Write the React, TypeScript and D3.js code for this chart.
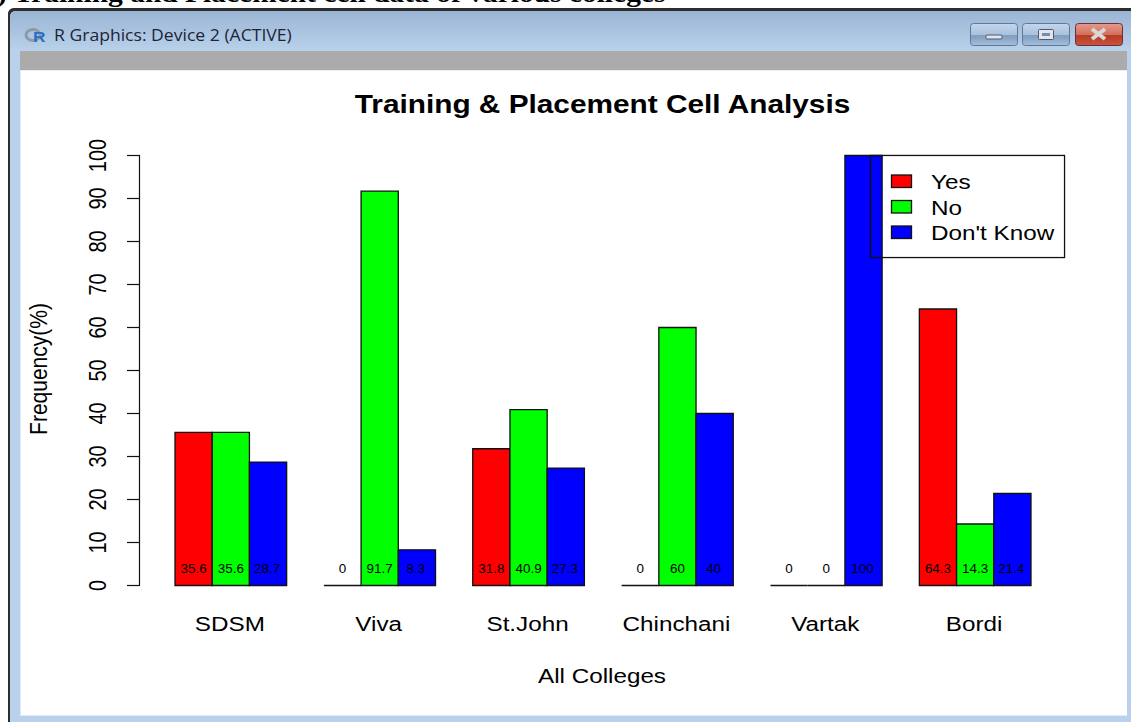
import React from "react";
import * as d3 from "d3";

const colleges = ["SDSM", "Viva", "St.John", "Chinchani", "Vartak", "Bordi"];
const yes = [35.6, 0, 31.8, 0, 0, 64.3];
const no = [35.6, 91.7, 40.9, 60, 0, 14.3];
const dontKnow = [28.7, 8.3, 27.3, 40, 100, 21.4];
const seriesNames = ["Yes", "No", "Don't Know"];
const seriesColors = ["#ff0000", "#00ff00", "#0000ff"];
const yTicks = [0, 10, 20, 30, 40, 50, 60, 70, 80, 90, 100];

const SANS = "'Liberation Sans', Arial, sans-serif";
const SX = 1.155;

function T({ x, y, sx = SX, rotate = 0, children, ...rest }: any) {
  const r = rotate ? ` rotate(${rotate})` : "";
  return (
    <text transform={`translate(${x},${y}) scale(${sx},1)${r}`} {...rest}>
      {children}
    </text>
  );
}

export default function App() {
  const y = d3.scaleLinear().domain([0, 100]).range([585.5, 155.5]);
  const x = d3.scaleLinear().domain([1, 24]).range([175, 1031]);
  const series = [yes, no, dontKnow];
  const unit = x(2) - x(1);
  const labelNudge = [0, 0, -1];

  return (
    <svg
      width={1131}
      height={722}
      viewBox="0 0 1131 722"
      style={{ position: "absolute", left: 0, top: 0, display: "block" }}
      fontFamily={SANS}
    >
      <defs>
        <linearGradient id="bar" x1="0" y1="0" x2="0" y2="1">
          <stop offset="0" stopColor="#9ab5d4" />
          <stop offset="1" stopColor="#b9d1ea" />
        </linearGradient>
        <linearGradient id="btn" x1="0" y1="0" x2="0" y2="1">
          <stop offset="0" stopColor="#c3d6ec" />
          <stop offset="0.5" stopColor="#a9c2df" />
          <stop offset="0.55" stopColor="#7f9cbd" />
          <stop offset="1" stopColor="#a5c0de" />
        </linearGradient>
        <linearGradient id="close" x1="0" y1="0" x2="0" y2="1">
          <stop offset="0" stopColor="#e49a8c" />
          <stop offset="0.5" stopColor="#d2705f" />
          <stop offset="0.55" stopColor="#b93a22" />
          <stop offset="1" stopColor="#c8553f" />
        </linearGradient>
      </defs>
      <rect x={0} y={0} width={1131} height={722} fill="#ffffff" />
      <T x={-3} y={2} sx={1.134} fontFamily="'Liberation Serif', serif" fontWeight="bold" fontSize={26}>
        ) Training and Placement cell data of various colleges
      </T>

      {/* window frame */}
      <path d="M8 722 V15 Q8 8 15 8 H1131 V722 Z" fill="#2e2e2e" />
      <path d="M8 722 V15 Q8 8 15 8 H1131 V9.5 H16 Q10 9.5 10 16 V722 Z" fill="#2e2e2e" />
      <path d="M10 722 V17 Q10 11 16 11 H1131 V722 Z" fill="#b9d1ea" />
      <path d="M10 51 V17 Q10 11 16 11 H1131 V51 Z" fill="url(#bar)" />
      <rect x={20} y={51} width={1107} height={19} fill="#ababab" />
      <rect x={20} y={70} width={1107} height={645} fill="#ffffff" />
      <rect x={20} y={70} width={1107} height={1} fill="#e8eef6" />
      <rect x={20} y={71} width={1} height={644} fill="#e0eaf6" />
      <rect x={20} y={715} width={1107} height={1} fill="#e0eaf6" />

      {/* title bar */}
      <ellipse cx={33} cy={35} rx={7} ry={5.5} fill="none" stroke="#8e9aa8" strokeWidth={3} />
      <text x={33} y={42} fontSize={15} fontWeight="bold" fill="#2a6fc0" transform="translate(-5,0) scale(1.15,1)">R</text>
      <T x={54} y={41} sx={1.1} fontSize={16} fontFamily="'Open Sans', sans-serif" fill="#1c2438">
        R Graphics: Device 2 (ACTIVE)
      </T>

      {/* window buttons */}
      <rect x={970.5} y={23.5} width={47} height={22} rx={3} fill="url(#btn)" stroke="#5f7896" />
      <rect x={986} y={35} width={16} height={4} rx={1} fill="#e4e4ea" stroke="#4a5a70" />
      <rect x={1022.5} y={23.5} width={47} height={22} rx={3} fill="url(#btn)" stroke="#5f7896" />
      <rect x={1038.5} y={29.5} width={15} height={10} rx={1} fill="#e4e4ea" stroke="#4a5a70" />
      <rect x={1042} y={33} width={8} height={3} fill="#6f8fb5" />
      <rect x={1075.5} y={23.5} width={47} height={22} rx={3} fill="url(#close)" stroke="#6a3040" />
      <path d="M1092 29 L1105 39 M1105 29 L1092 39" stroke="#d8d8d8" strokeWidth={4} />

      {/* title */}
      <T x={602.5} y={113} textAnchor="middle" fontWeight="bold" fontSize={25.8}>
        Training &amp; Placement Cell Analysis
      </T>

      {/* y axis */}
      <line x1={139.5} x2={139.5} y1={y(0)} y2={y(100)} stroke="#111" strokeWidth={1.2} />
      {yTicks.map((t) => (
        <g key={t}>
          <line x1={127} x2={140} y1={y(t)} y2={y(t)} stroke="#111" strokeWidth={1.2} />
          <T x={106} y={y(t)} rotate={-90} textAnchor="middle" fontSize={20} fill="#000">
            {t}
          </T>
        </g>
      ))}
      <T x={47} y={369} rotate={-90} textAnchor="middle" fontSize={21}>
        Frequency(%)
      </T>

      {/* bars */}
      {colleges.map((c, i) => {
        const start = 1 + i * 4;
        return (
          <g key={c}>
            {series.map((s, j) => {
              const x0 = x(start + j);
              return (
                <path
                  key={j}
                  d={`M${x0} ${y(s[i])} H${x0 + unit} V${y(0)} H${x0} Z`}
                  fill={seriesColors[j]}
                  stroke="#111"
                  strokeWidth={1.3}
                />
              );
            })}
            {series.map((s, j) => (
              <T
                key={j}
                x={x(start + j + 0.5) + labelNudge[j]}
                y={573}
                sx={1.12}
                textAnchor="middle"
                fontSize={12}
                fill="#000"
              >
                {s[i]}
              </T>
            ))}
            <T x={x(start + 1.5) - 1} y={631} textAnchor="middle" fontSize={21}>
              {c}
            </T>
          </g>
        );
      })}

      <T x={602} y={683} textAnchor="middle" fontSize={21}>
        All Colleges
      </T>

      {/* legend */}
      <rect x={870.5} y={155.5} width={194} height={102} fill="none" stroke="#111" strokeWidth={1.2} />
      <rect x={883} y={156} width={181} height={101} fill="#fff" />
      <rect x={870.5} y={155.5} width={194} height={102} fill="none" stroke="#111" strokeWidth={1.2} />
      {seriesNames.map((n, i) => {
        const cy = 181 + i * 25.5;
        return (
          <g key={n}>
            <rect x={891.5} y={cy - 6} width={20} height={12.5} fill={seriesColors[i]} stroke="#111" strokeWidth={1.3} />
            <T x={931} y={cy + 8} fontSize={21}>
              {n}
            </T>
          </g>
        );
      })}
    </svg>
  );
}
